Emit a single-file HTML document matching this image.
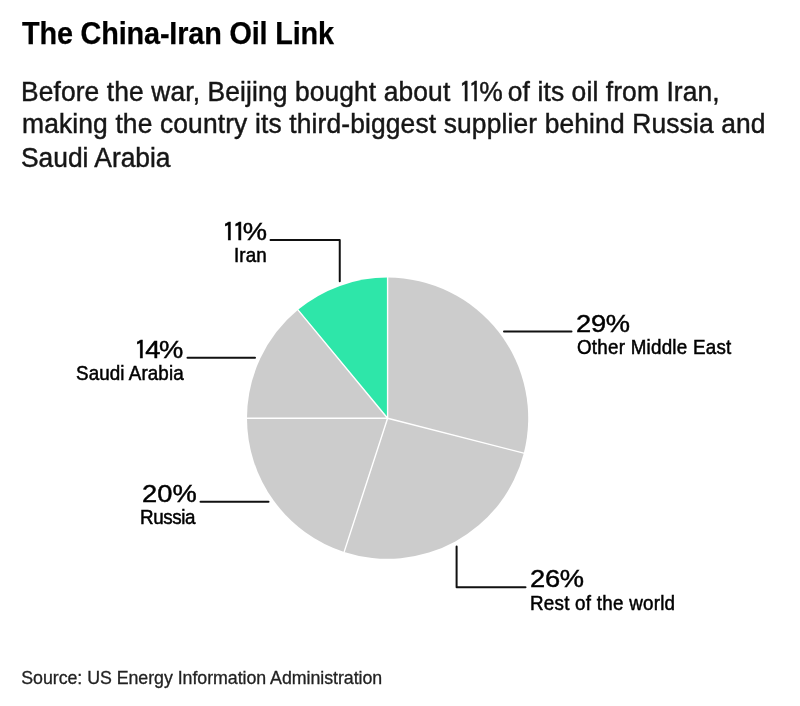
<!DOCTYPE html>
<html><head><meta charset="utf-8"><title>The China-Iran Oil Link</title>
<style>
html,body{margin:0;padding:0;background:#fff;}
body{width:800px;height:706px;position:relative;overflow:hidden;}
svg{position:absolute;left:0;top:0;}

.t{position:absolute;white-space:nowrap;line-height:1;transform-origin:0 0;font-family:'Liberation Sans',sans-serif;color:#000}
.one{font-family:IPAGothic,'Liberation Sans',sans-serif;font-size:101.6%}
.pct .one{position:relative;top:1px}
.sub .ones{position:relative;left:2.6px}
.sub .one{position:relative;top:1px}
.sub .one{margin:0 -0.1em 0 -0.05em}
.title{font-weight:bold;-webkit-text-stroke:0.25px currentColor}
.sub{-webkit-text-stroke:0.45px currentColor}
.lab{-webkit-text-stroke:0.5px currentColor}
.pct{-webkit-text-stroke:0.45px currentColor}
.src{-webkit-text-stroke:0.3px currentColor}

</style></head><body>
<svg width="800" height="706" viewBox="0 0 800 706">
<path d="M387.6 418.2L387.60 277.60A140.6 140.6 0 0 1 523.78 453.17Z" fill="#cccccc"/>
<path d="M387.6 418.2L523.78 453.17A140.6 140.6 0 0 1 344.15 551.92Z" fill="#cccccc"/>
<path d="M387.6 418.2L344.15 551.92A140.6 140.6 0 0 1 247.00 418.20Z" fill="#cccccc"/>
<path d="M387.6 418.2L247.00 418.20A140.6 140.6 0 0 1 297.98 309.87Z" fill="#cccccc"/>
<path d="M387.6 418.2L297.98 309.87A140.6 140.6 0 0 1 387.60 277.60Z" fill="#2ee6a9"/>
<path d="M387.6 418.2L387.60 276.60M387.6 418.2L524.75 453.41M387.6 418.2L343.84 552.87M387.6 418.2L246.00 418.20M387.6 418.2L297.34 309.10" fill="none" stroke="#fff" stroke-width="1.4"/>
<g fill="none" stroke="#111" stroke-width="2" stroke-linecap="round" stroke-linejoin="round">
<path d="M270.5 240H339.75V281.2"/>
<path d="M187.5 357.8H255"/>
<path d="M200.5 501.7H268.5"/>
<path d="M504 331.4H571.5"/>
<path d="M456.6 546.5V587.2H525.5"/>
</g>
</svg>
<div class="t title" id="title" style="left:21.95px;top:17.0px;font-size:32px;letter-spacing:-0.162px;transform:scaleX(0.9);color:#000;">The China-Iran Oil Link</div>
<div class="t sub" id="s1" style="left:21.4px;top:77.0px;font-size:27px;letter-spacing:0.102px;transform:scaleX(0.978);color:#161616;">Before the war, Beijing bought about <span class="ones"><span class="one">1</span><span class="one">1</span>%</span> of its oil from Iran,</div>
<div class="t sub" id="s2" style="left:21.9px;top:111.0px;font-size:27px;letter-spacing:0.134px;transform:scaleX(0.978);color:#161616;">making the country its third-biggest supplier behind Russia and</div>
<div class="t sub" id="s3" style="left:21.2px;top:145.0px;font-size:27px;letter-spacing:-0.019px;transform:scaleX(0.978);color:#161616;">Saudi Arabia</div>
<div class="t lab" id="l11" style="left:233.5px;top:246.0px;font-size:19.8px;letter-spacing:0.105px;transform:scaleX(0.95);">Iran</div>
<div class="t lab" id="l14" style="left:75.5px;top:364.0px;font-size:19.8px;letter-spacing:0.1px;transform:scaleX(0.95);">Saudi Arabia</div>
<div class="t lab" id="l20" style="left:140.35px;top:508.0px;font-size:19.8px;letter-spacing:-0.442px;transform:scaleX(0.95);">Russia</div>
<div class="t lab" id="l29" style="left:576.65px;top:338.0px;font-size:19.8px;letter-spacing:0.253px;transform:scaleX(0.95);">Other Middle East</div>
<div class="t lab" id="l26" style="left:530.35px;top:594.0px;font-size:19.8px;letter-spacing:0.266px;transform:scaleX(0.95);">Rest of the world</div>
<div class="t pct" id="p11" style="left:222.0px;top:218.0px;font-size:24.8px;letter-spacing:0.0px;transform:scaleX(1.1);"><span class="one" style="letter-spacing:-3.114px">1</span><span class="one" style="letter-spacing:-3.114px">1</span>%</div>
<div class="t pct" id="p14" style="left:133.8px;top:336.0px;font-size:24.8px;letter-spacing:-1.364px;transform:scaleX(1.1);"><span class="one" style="letter-spacing:-2.3px">1</span>4%</div>
<div class="t pct" id="p20" style="left:141.75px;top:482.0px;font-size:24.8px;letter-spacing:0.045px;transform:scaleX(1.1);">20%</div>
<div class="t pct" id="p29" style="left:576.15px;top:312.0px;font-size:24.8px;letter-spacing:-0.227px;transform:scaleX(1.1);">29%</div>
<div class="t pct" id="p26" style="left:529.75px;top:567.0px;font-size:24.8px;letter-spacing:-0.227px;transform:scaleX(1.1);">26%</div>
<div class="t src" id="src" style="left:21.25px;top:670.0px;font-size:17.8px;letter-spacing:-0.041px;color:#222;">Source: US Energy Information Administration</div>
</body></html>
